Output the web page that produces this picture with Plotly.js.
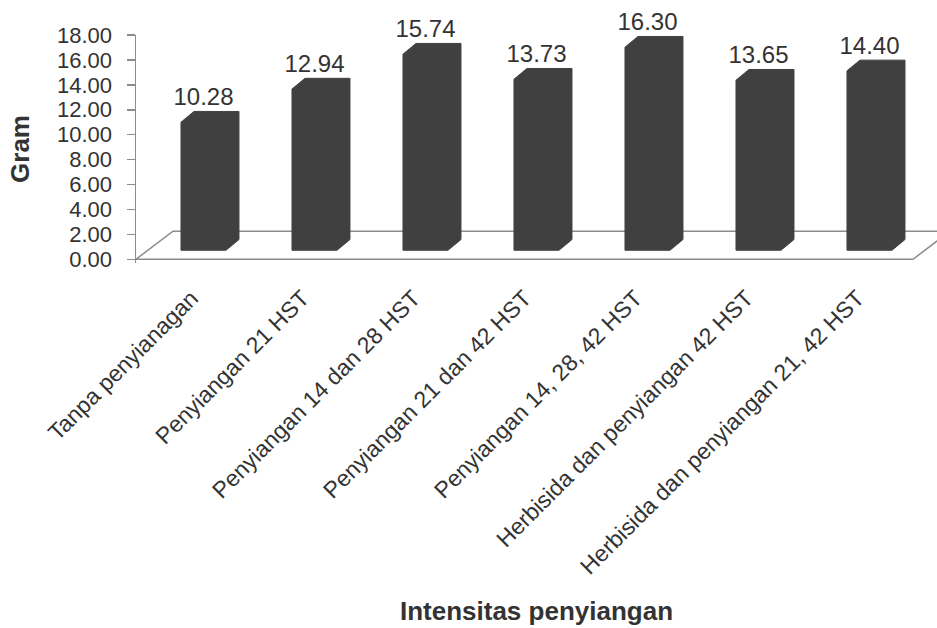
<!DOCTYPE html>
<html>
<head>
<meta charset="utf-8">
<script src="https://cdn.plot.ly/plotly-3.0.1.min.js"></script>
<style>html,body{margin:0;padding:0;background:#fff;}#chart{width:937px;height:628px;}</style>
</head>
<body>
<div id="chart"></div>
<script>
// ---- data ----
const categories = [
  'Tanpa penyianagan',
  'Penyiangan 21 HST',
  'Penyiangan 14 dan 28 HST',
  'Penyiangan 21 dan 42 HST',
  'Penyiangan 14, 28, 42 HST',
  'Herbisida dan penyiangan 42 HST',
  'Herbisida dan penyiangan 21, 42 HST'
];
const values = [10.28, 12.94, 15.74, 13.73, 16.30, 13.65, 14.40];
const yTicks = [0, 2, 4, 6, 8, 10, 12, 14, 16, 18];
const yTitle = 'Gram';
const xTitle = 'Intensitas penyiangan';

// ---- 3D geometry (axis units) ----
const FRONT_OFF = 0.108, HALF_W = 0.2027, DX = 0.117, DY = 0.86, BASE = 0.723;
const FLOOR_DX = 0.333, FLOOR_DY = 2.25;
const Y_MIN = -0.3, Y_MAX = 18;
const X_MIN = -0.5, X_MAX = -0.5 + 801 / 111;
const n = categories.length;
const pos = categories.map((c, i) => i);
const axisPos = (0 - Y_MIN) / (Y_MAX - Y_MIN);

// floor
const floorX = [n - 0.5 + FLOOR_DX, -0.5 + FLOOR_DX, -0.5, n - 0.5, n - 0.5 + FLOOR_DX];
const floorY = [FLOOR_DY, FLOOR_DY, 0, 0, FLOOR_DY];

// bars (front + side + top faces as one outline)
const barX = [], barY = [];
values.forEach((v, i) => {
  const xL = pos[i] + FRONT_OFF - HALF_W, xR = pos[i] + FRONT_OFF + HALF_W;
  const yB = BASE, yT = BASE + v;
  barX.push(xL, xR, xR + DX, xR + DX, xL + DX, xL, xL, null);
  barY.push(yB, yB, yB + DY, yT + DY, yT + DY, yT, yB, null);
});

const COLOR = '#404040';
const TXT = '#333333';
const FONT = '"Liberation Sans", Arial, sans-serif';

const traces = [
  {x: floorX, y: floorY, mode: 'lines', line: {color: '#8c8c8c', width: 1.5},
   hoverinfo: 'skip', showlegend: false},
  {x: barX, y: barY, mode: 'lines', fill: 'toself', fillcolor: COLOR,
   line: {color: COLOR, width: 1}, connectgaps: false, showlegend: false, hoverinfo: 'skip'},
  {x: pos.map(p => p + FRONT_OFF), y: values.map(v => BASE + v + DY),
   mode: 'text', text: values.map(v => v.toFixed(2)), textposition: 'top center',
   textfont: {size: 24, color: TXT, family: FONT}, cliponaxis: false,
   showlegend: false, hoverinfo: 'skip'}
];

const layout = {
  width: 937, height: 628,
  margin: {l: 136, r: 0, t: 35, b: 365},
  paper_bgcolor: '#fff', plot_bgcolor: '#fff',
  font: {family: FONT, color: TXT},
  showlegend: false,
  xaxis: {
    type: 'linear', range: [X_MIN, X_MAX],
    tickvals: pos, ticktext: categories, tickangle: -45,
    tickfont: {size: 23, color: TXT, family: FONT},
    ticks: '', showline: false, showgrid: false, zeroline: false,
    anchor: 'free', position: axisPos, ticklabelstandoff: 20,
    title: {text: xTitle, font: {size: 26, color: TXT, family: FONT, weight: 'bold'}, standoff: 23},
    automargin: false, fixedrange: true
  },
  xaxis2: {
    type: 'linear', range: [X_MIN, X_MAX], overlaying: 'x',
    tickvals: Array.from({length: n + 1}, (_, i) => i - 0.5),
    showticklabels: false, ticks: 'outside', ticklen: 7, tickwidth: 1.5, tickcolor: '#8c8c8c',
    showline: false, showgrid: false, zeroline: false,
    anchor: 'free', position: axisPos, automargin: false, fixedrange: true
  },
  yaxis: {
    range: [Y_MIN, Y_MAX], tickvals: yTicks, tickformat: '.2f',
    tickfont: {size: 22, color: TXT, family: FONT},
    ticks: 'outside', ticklen: 8, tickwidth: 1.5, tickcolor: '#8c8c8c',
    showline: true, linecolor: '#8c8c8c', linewidth: 1.5,
    showgrid: false, zeroline: false, ticklabelstandoff: 10,
    title: {text: yTitle, font: {size: 26, color: TXT, family: FONT, weight: 'bold'}, standoff: 20},
    automargin: false, fixedrange: true
  }
};

Plotly.newPlot('chart', traces, layout, {displayModeBar: false, staticPlot: true});
</script>
</body>
</html>
